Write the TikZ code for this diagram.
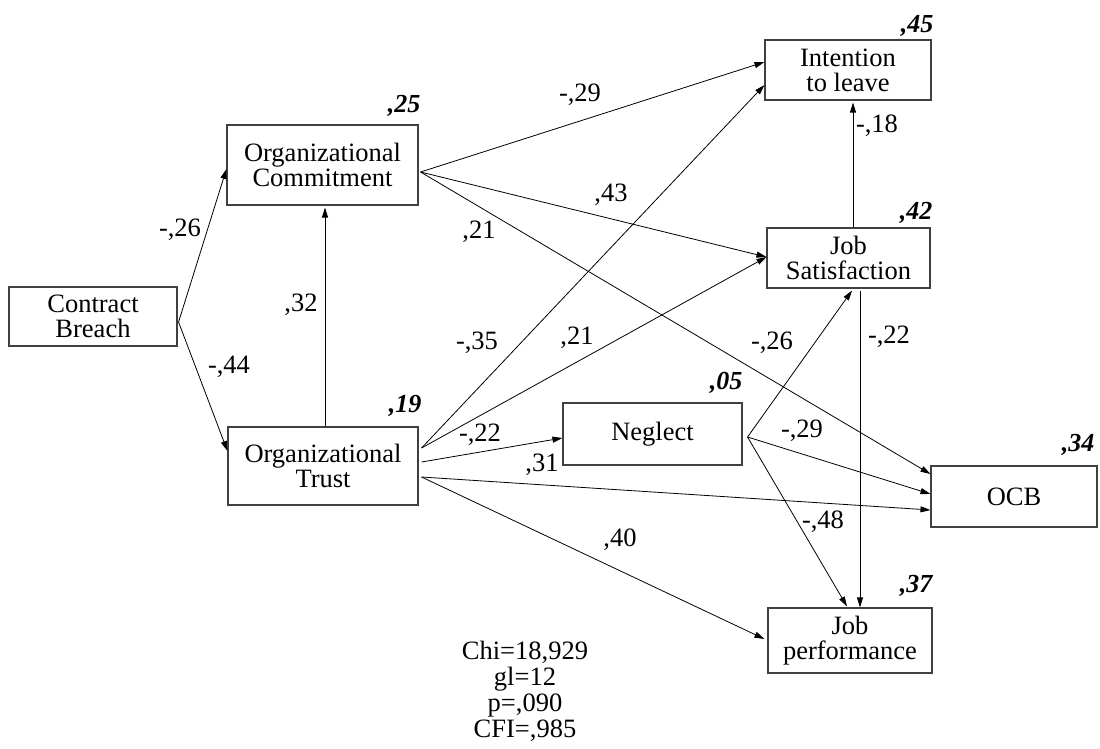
\documentclass[tikz,border=0pt]{standalone}
\usepackage{fontspec}
\setmainfont{Liberation Serif}
\usetikzlibrary{arrows.meta}
\begin{document}
\begin{tikzpicture}[x=1pt,y=-1pt,
 box/.style={draw=black!75,line width=1.1pt,inner sep=0pt,align=center,font=\fontsize{26.5}{25}\selectfont},
 arr/.style={-{Triangle[length=10pt,width=6pt]},line width=0.8pt},
 coef/.style={font=\fontsize{26.5}{26}\selectfont,inner sep=0pt},
 rsq/.style={font=\fontsize{26}{26}\selectfont\bfseries\itshape,inner sep=0pt,anchor=base east}]
\useasboundingbox (0,0) rectangle (1100,748);
% boxes
\node[box,minimum width=168pt,minimum height=59pt] (CB) at (93,316.5) {Contract\\Breach};
\node[box,minimum width=191pt,minimum height=80pt] (OC) at (322.5,165) {Organizational\\Commitment};
\node[box,minimum width=190pt,minimum height=78pt] (OT) at (323,466) {Organizational\\Trust};
\node[box,minimum width=166pt,minimum height=60pt] (IL) at (848,70) {Intention\\to leave};
\node[box,minimum width=163pt,minimum height=60pt] (JS) at (848.5,258) {Job\\Satisfaction};
\node[box,minimum width=179pt,minimum height=62pt] (NE) at (652.5,434) {Neglect};
\node[box,minimum width=166pt,minimum height=61pt] (OCB) at (1014,496.5) {OCB};
\node[box,minimum width=164pt,minimum height=65pt] (JP) at (850,640.5) {Job\\performance};
% R squared
\node[rsq] (rOC) at ([xshift=2pt,yshift=12pt]OC.north east) {,25};
\node[rsq] (rIL) at ([xshift=2pt,yshift=7pt]IL.north east) {,45};
\node[rsq] (rOT) at ([xshift=3pt,yshift=14pt]OT.north east) {,19};
\node[rsq] (rJS) at ([xshift=2pt,yshift=8pt]JS.north east) {,42};
\node[rsq] (rNE) at ([yshift=13pt]NE.north east) {,05};
\node[rsq] (rOCB) at ([xshift=-3pt,yshift=14pt]OCB.north east) {,34};
\node[rsq] (rJP) at ([yshift=15pt]JP.north east) {,37};
% arrows
\draw[arr] ([xshift=1pt,yshift=-5.5pt]CB.east) -- ([yshift=-4pt]OC.west);
\draw[arr] ([xshift=1pt,yshift=-5.5pt]CB.east) -- ([yshift=15pt]OT.west);
\draw[arr] ([xshift=2pt]OT.north) -- ([xshift=2.5pt,yshift=-2pt]OC.south);
\draw[arr] ([xshift=2pt,yshift=-7pt]OC.east) -- ([yshift=8pt]IL.west);
\draw[arr] ([xshift=2pt,yshift=-7pt]OC.east) -- ([yshift=1pt]JS.west);
\draw[arr] ([xshift=2pt,yshift=-7pt]OC.east) -- ([yshift=22.5pt]OCB.west);
\draw[arr] ([xshift=3pt,yshift=18pt]OT.east) -- ([yshift=-15pt]IL.west);
\draw[arr] ([xshift=3pt,yshift=18pt]OT.east) -- ([yshift=1pt]JS.west);
\draw[arr] ([xshift=3pt,yshift=4pt]OT.east) -- ([yshift=-4pt]NE.west);
\draw[arr] ([xshift=3pt,yshift=-11pt]OT.east) -- ([yshift=-13.5pt]OCB.west);
\draw[arr] ([xshift=3pt,yshift=-11pt]OT.east) -- ([xshift=-3pt,yshift=1.5pt]JP.west);
\draw[arr] ([xshift=5pt,yshift=-3pt]NE.east) -- ([xshift=3.5pt,yshift=-2pt]JS.south);
\draw[arr] ([xshift=5pt,yshift=-3pt]NE.east) -- ([yshift=2.5pt]OCB.west);
\draw[arr] ([xshift=5pt,yshift=-3pt]NE.east) -- ([xshift=-3pt,yshift=1pt]JP.north);
\draw[arr] ([xshift=11.5pt,yshift=-2pt]JS.south) -- ([xshift=10pt]JP.north);
\draw[arr] ([xshift=4.5pt]JS.north) -- ([xshift=5pt,yshift=-2pt]IL.south);
% coefficients
\node[coef] (c1) at (180,230) {-,26};
\node[coef] (c2) at (229,367) {-,44};
\node[coef] (c3) at (301,305) {,32};
\node[coef] (c4) at (580,95) {-,29};
\node[coef] (c5) at (611,195) {,43};
\node[coef] (c6) at (479,232) {,21};
\node[coef] (c7) at (477,343) {-,35};
\node[coef] (c8) at (577,338) {,21};
\node[coef] (c9) at (480,435) {-,22};
\node[coef] (c10) at (542,465) {,31};
\node[coef] (c11) at (620,540) {,40};
\node[coef] (c12) at (877,126) {-,18};
\node[coef] (c13) at (772,343) {-,26};
\node[coef] (c14) at (889,337) {-,22};
\node[coef] (c15) at (802,431) {-,29};
\node[coef] (c16) at (823,522) {-,48};
% fit statistics
\node[font=\fontsize{26.5}{26}\selectfont,align=center,inner sep=0pt] (fit) at (525,691) {Chi=18,929\\gl=12\\p=,090\\CFI=,985};
\end{tikzpicture}
\end{document}
